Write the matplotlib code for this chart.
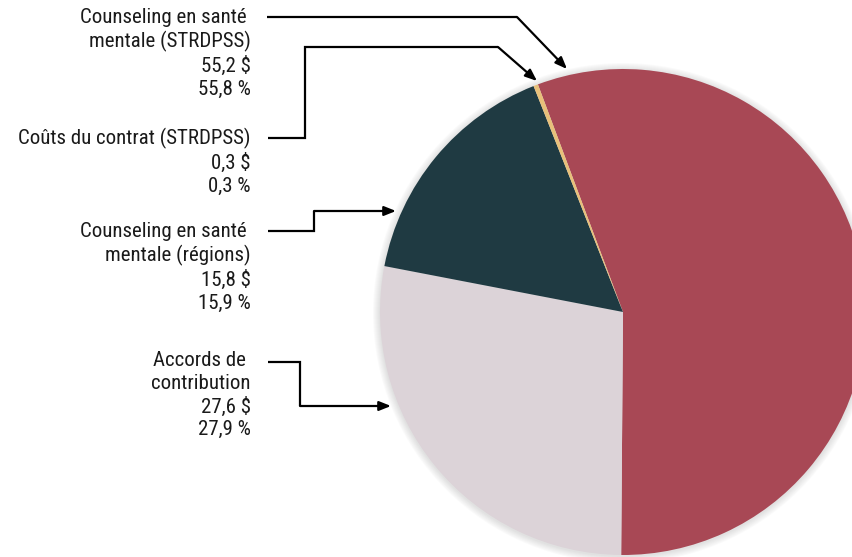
import matplotlib
matplotlib.use("Agg")
from matplotlib import pyplot as plt
from matplotlib.patches import Circle

plt.rcParams['font.family'] = ['Roboto Condensed', 'DejaVu Sans']

# slices in clockwise order starting from the top
labels = ["Counseling en santé mentale (STRDPSS)", "Accords de contribution",
          "Counseling en santé mentale (régions)", "Coûts du contrat (STRDPSS)"]
amounts = [55.2, 27.6, 15.8, 0.3]
percents = [55.8, 27.9, 15.9, 0.3]
colors = ["#A84855", "#DCD3D8", "#1F3A42", "#E8C07A"]

label_text = [
    "Counseling en santé \nmentale (STRDPSS)",
    "Accords de \ncontribution",
    "Counseling en santé \nmentale (régions)",
    "Coûts du contrat (STRDPSS)",
]

W, H = 853, 557
fig = plt.figure(figsize=(W / 100, H / 100), dpi=100)
ax = fig.add_axes([0, 0, 1, 1])

cx, cy, r = 623, H - 312, 243

# soft shadow round the pie
for k in range(1, 8):
    ax.add_patch(Circle((cx, cy - 1), r + k, color="#888888", alpha=0.035, lw=0, zorder=0))

ax.pie(amounts, colors=colors, startangle=110.5, counterclock=False,
       center=(cx, cy), radius=r, frame=True,
       wedgeprops=dict(linewidth=0))

# text blocks, top line y in image pixels
text_y = [8, 351, 222, 128]
for lab, amt, pct, ty in zip(label_text, amounts, percents, text_y):
    s = lab + "\n" + f"{amt:.1f} $".replace(".", ",") + "\n" + f"{pct:.1f} %".replace(".", ",")
    ax.text(251, H - ty, s, ha="right", va="top", fontsize=15,
            linespacing=1.24, color="#1a1a1a")

# connector lines (image pixel coords), last segment carries the arrow
paths = [
    [(267, 17), (517, 17), (567, 69)],
    [(268, 138), (305, 138), (305, 47), (498, 47), (537, 81)],
    [(268, 231), (314, 231), (314, 211), (396, 211)],
    [(268, 362), (300, 362), (300, 406), (391, 406)],
]
for p in paths:
    xs = [q[0] for q in p[:-1]]
    ys = [H - q[1] for q in p[:-1]]
    ax.plot(xs, ys, color="black", lw=1.6, solid_capstyle="butt", solid_joinstyle="miter")
    ax.annotate("", xy=(p[-1][0], H - p[-1][1]), xytext=(p[-2][0], H - p[-2][1]),
                arrowprops=dict(arrowstyle="-|>,head_length=0.7,head_width=0.28",
                                color="black", lw=1.6, shrinkA=0, shrinkB=0))

ax.set_xlim(0, W)
ax.set_ylim(0, H)
ax.set_aspect("equal")
ax.axis("off")

fig.savefig("out.png", dpi=100)
